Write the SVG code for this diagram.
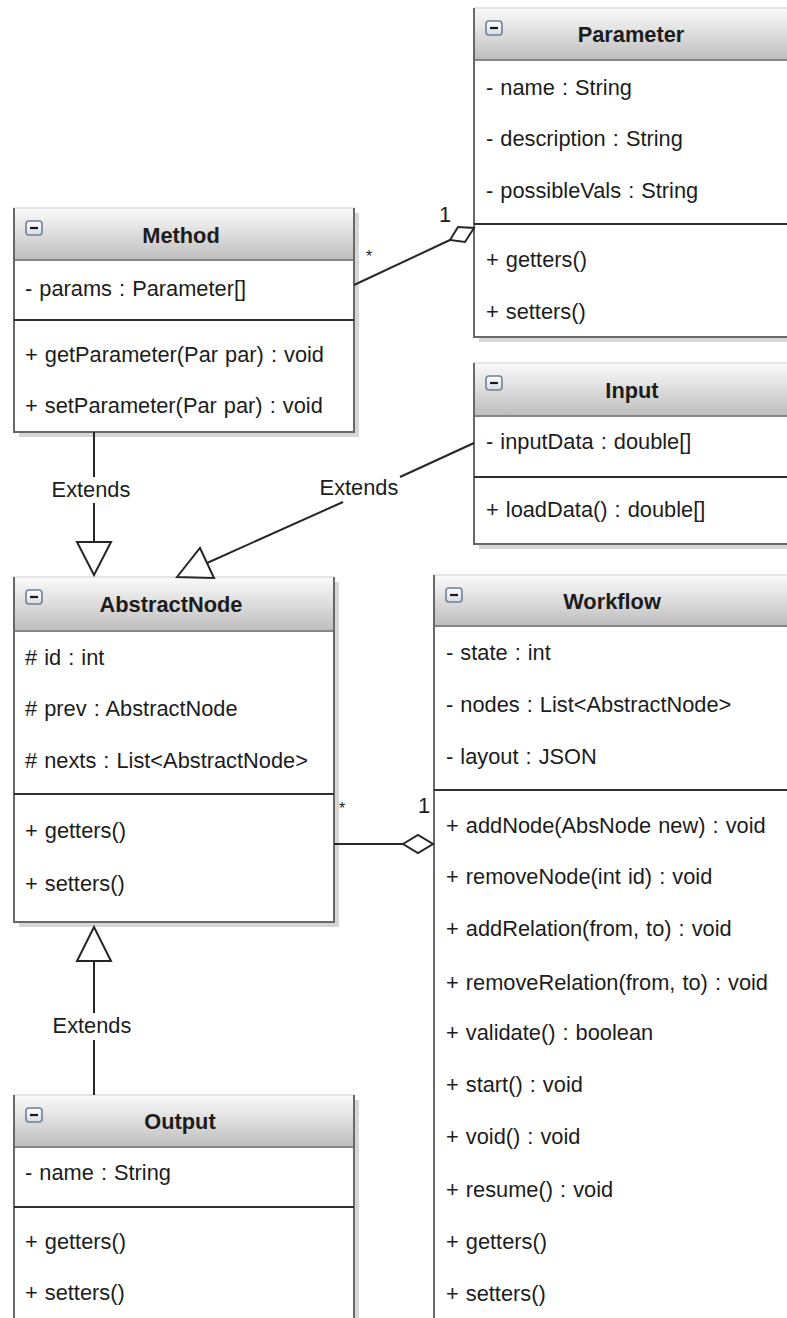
<svg xmlns="http://www.w3.org/2000/svg" width="787" height="1318" viewBox="0 0 787 1318">
<defs>
<linearGradient id="hg" x1="0" y1="0" x2="0" y2="1">
<stop offset="0" stop-color="#fafafa"/>
<stop offset="0.35" stop-color="#e6e6e6"/>
<stop offset="1" stop-color="#bdbdbd"/>
</linearGradient>
<linearGradient id="ig" x1="0" y1="0" x2="0" y2="1">
<stop offset="0" stop-color="#ffffff"/>
<stop offset="1" stop-color="#d6dbe3"/>
</linearGradient>
<style>
.shadow{fill:#d6d6d6}
.body{fill:#ffffff}
.hdr{fill:url(#hg)}
.border{fill:none;stroke:#686868;stroke-width:2}
.top{stroke:#dcdcdc;stroke-width:1.5}
.hline{stroke:#858585;stroke-width:2}
.sep{stroke:#2e2e2e;stroke-width:2}
.icon{fill:url(#ig);stroke:#6f8098;stroke-width:1.6}
.minus{stroke:#1a1a1a;stroke-width:2.2}
text{font-family:"Liberation Sans",Arial,sans-serif;font-size:21.8px;fill:#1c1c1c;word-spacing:1px}
.title{font-weight:bold;text-anchor:middle;word-spacing:0}
.lbl{text-anchor:middle}
.star{font-size:16px}
.conn{fill:none;stroke:#262626;stroke-width:2}
.head{fill:#ffffff;stroke:#262626;stroke-width:2;stroke-linejoin:miter}
</style>
</defs>
<rect width="787" height="1318" fill="#ffffff"/>

<g id="Parameter">
<rect class="shadow" x="479" y="13" width="320" height="329"/>
<rect class="body" x="474" y="8" width="320" height="329"/>
<rect class="hdr" x="474" y="8" width="320" height="52"/>
<line class="top" x1="474" y1="8" x2="794" y2="8"/>
<line class="hline" x1="474" y1="60" x2="794" y2="60"/>
<path class="border" d="M474,8 V337 H794"/>
<rect class="icon" x="486" y="21" width="16" height="14" rx="3"/>
<line class="minus" x1="490" y1="28" x2="498" y2="28"/>
<text class="title" x="631" y="42">Parameter</text>
<text x="486" y="95">- name : String</text>
<text x="486" y="146">- description : String</text>
<text x="486" y="198">- possibleVals : String</text>
<line class="sep" x1="474" y1="224" x2="794" y2="224"/>
<text x="486" y="267">+ getters()</text>
<text x="486" y="319">+ setters()</text>
</g>

<g id="Method">
<rect class="shadow" x="19" y="213" width="340" height="224"/>
<rect class="body" x="14" y="208" width="340" height="224"/>
<rect class="hdr" x="14" y="208" width="340" height="52"/>
<line class="top" x1="14" y1="208" x2="354" y2="208"/>
<line class="hline" x1="14" y1="260" x2="354" y2="260"/>
<path class="border" d="M14,208 V432 H354 V208"/>
<rect class="icon" x="26" y="221" width="16" height="14" rx="3"/>
<line class="minus" x1="30" y1="228" x2="38" y2="228"/>
<text class="title" x="181" y="243">Method</text>
<text x="25" y="296">- params : Parameter[]</text>
<line class="sep" x1="14" y1="320" x2="354" y2="320"/>
<text x="25" y="362">+ getParameter(Par par) : void</text>
<text x="25" y="413">+ setParameter(Par par) : void</text>
</g>

<g id="Input">
<rect class="shadow" x="479" y="368" width="320" height="181"/>
<rect class="body" x="474" y="363" width="320" height="181"/>
<rect class="hdr" x="474" y="363" width="320" height="53"/>
<line class="top" x1="474" y1="363" x2="794" y2="363"/>
<line class="hline" x1="474" y1="416" x2="794" y2="416"/>
<path class="border" d="M474,363 V544 H794"/>
<rect class="icon" x="486" y="376" width="16" height="14" rx="3"/>
<line class="minus" x1="490" y1="383" x2="498" y2="383"/>
<text class="title" x="632" y="398">Input</text>
<text x="486" y="449">- inputData : double[]</text>
<line class="sep" x1="474" y1="477" x2="794" y2="477"/>
<text x="486" y="517">+ loadData() : double[]</text>
</g>

<g id="AbstractNode">
<rect class="shadow" x="19" y="582" width="320" height="345"/>
<rect class="body" x="14" y="577" width="320" height="345"/>
<rect class="hdr" x="14" y="577" width="320" height="54"/>
<line class="top" x1="14" y1="577" x2="334" y2="577"/>
<line class="hline" x1="14" y1="631" x2="334" y2="631"/>
<path class="border" d="M14,577 V922 H334 V577"/>
<rect class="icon" x="26" y="590" width="16" height="14" rx="3"/>
<line class="minus" x1="30" y1="597" x2="38" y2="597"/>
<text class="title" x="171" y="612">AbstractNode</text>
<text x="25" y="665"># id : int</text>
<text x="25" y="716"># prev : AbstractNode</text>
<text x="25" y="768"># nexts : List&lt;AbstractNode&gt;</text>
<line class="sep" x1="14" y1="794" x2="334" y2="794"/>
<text x="25" y="838">+ getters()</text>
<text x="25" y="891">+ setters()</text>
</g>

<g id="Workflow">
<rect class="shadow" x="439" y="580" width="360" height="760"/>
<rect class="body" x="434" y="575" width="360" height="760"/>
<rect class="hdr" x="434" y="575" width="360" height="51"/>
<line class="top" x1="434" y1="575" x2="794" y2="575"/>
<line class="hline" x1="434" y1="626" x2="794" y2="626"/>
<path class="border" d="M434,575 V1335"/>
<rect class="icon" x="446" y="588" width="16" height="14" rx="3"/>
<line class="minus" x1="450" y1="595" x2="458" y2="595"/>
<text class="title" x="612" y="609">Workflow</text>
<text x="446" y="660">- state : int</text>
<text x="446" y="712">- nodes : List&lt;AbstractNode&gt;</text>
<text x="446" y="764">- layout : JSON</text>
<line class="sep" x1="434" y1="790" x2="794" y2="790"/>
<text x="446" y="833">+ addNode(AbsNode new) : void</text>
<text x="446" y="884">+ removeNode(int id) : void</text>
<text x="446" y="936">+ addRelation(from, to) : void</text>
<text x="446" y="990">+ removeRelation(from, to) : void</text>
<text x="446" y="1040">+ validate() : boolean</text>
<text x="446" y="1092">+ start() : void</text>
<text x="446" y="1144">+ void() : void</text>
<text x="446" y="1197">+ resume() : void</text>
<text x="446" y="1249">+ getters()</text>
<text x="446" y="1301">+ setters()</text>
</g>

<g id="Output">
<rect class="shadow" x="19" y="1100" width="340" height="240"/>
<rect class="body" x="14" y="1095" width="340" height="240"/>
<rect class="hdr" x="14" y="1095" width="340" height="52"/>
<line class="top" x1="14" y1="1095" x2="354" y2="1095"/>
<line class="hline" x1="14" y1="1147" x2="354" y2="1147"/>
<path class="border" d="M14,1335 V1095 M354,1095 V1335"/>
<rect class="icon" x="26" y="1108" width="16" height="14" rx="3"/>
<line class="minus" x1="30" y1="1115" x2="38" y2="1115"/>
<text class="title" x="180" y="1129">Output</text>
<text x="25" y="1180">- name : String</text>
<line class="sep" x1="14" y1="1207" x2="354" y2="1207"/>
<text x="25" y="1249">+ getters()</text>
<text x="25" y="1300">+ setters()</text>
</g>

<g id="connectors">
<line class="conn" x1="354" y1="285" x2="450" y2="240"/>
<path class="head" d="M450,240 L458,227 L474,228 L465,242 Z"/>
<text class="star" x="366" y="262">*</text>
<text x="439" y="222">1</text>
<line class="conn" x1="94" y1="432" x2="94" y2="477"/>
<line class="conn" x1="94" y1="503" x2="94" y2="542"/>
<path class="head" d="M77,542 L111,542 L94,575 Z"/>
<text class="lbl" x="91" y="497">Extends</text>
<line class="conn" x1="474" y1="443" x2="400" y2="477"/>
<line class="conn" x1="343" y1="502" x2="207" y2="563"/>
<path class="head" d="M177,577 L200,548 L214,578 Z"/>
<text class="lbl" x="359" y="495">Extends</text>
<line class="conn" x1="94" y1="1095" x2="94" y2="1040"/>
<line class="conn" x1="94" y1="1013" x2="94" y2="961"/>
<path class="head" d="M77,961 L111,961 L94,927 Z"/>
<text class="lbl" x="92" y="1033">Extends</text>
<line class="conn" x1="334" y1="844" x2="403" y2="844"/>
<path class="head" d="M403,844 L418,835 L433,844 L418,853 Z"/>
<text class="star" x="339" y="814">*</text>
<text x="418" y="813">1</text>
</g>
</svg>
